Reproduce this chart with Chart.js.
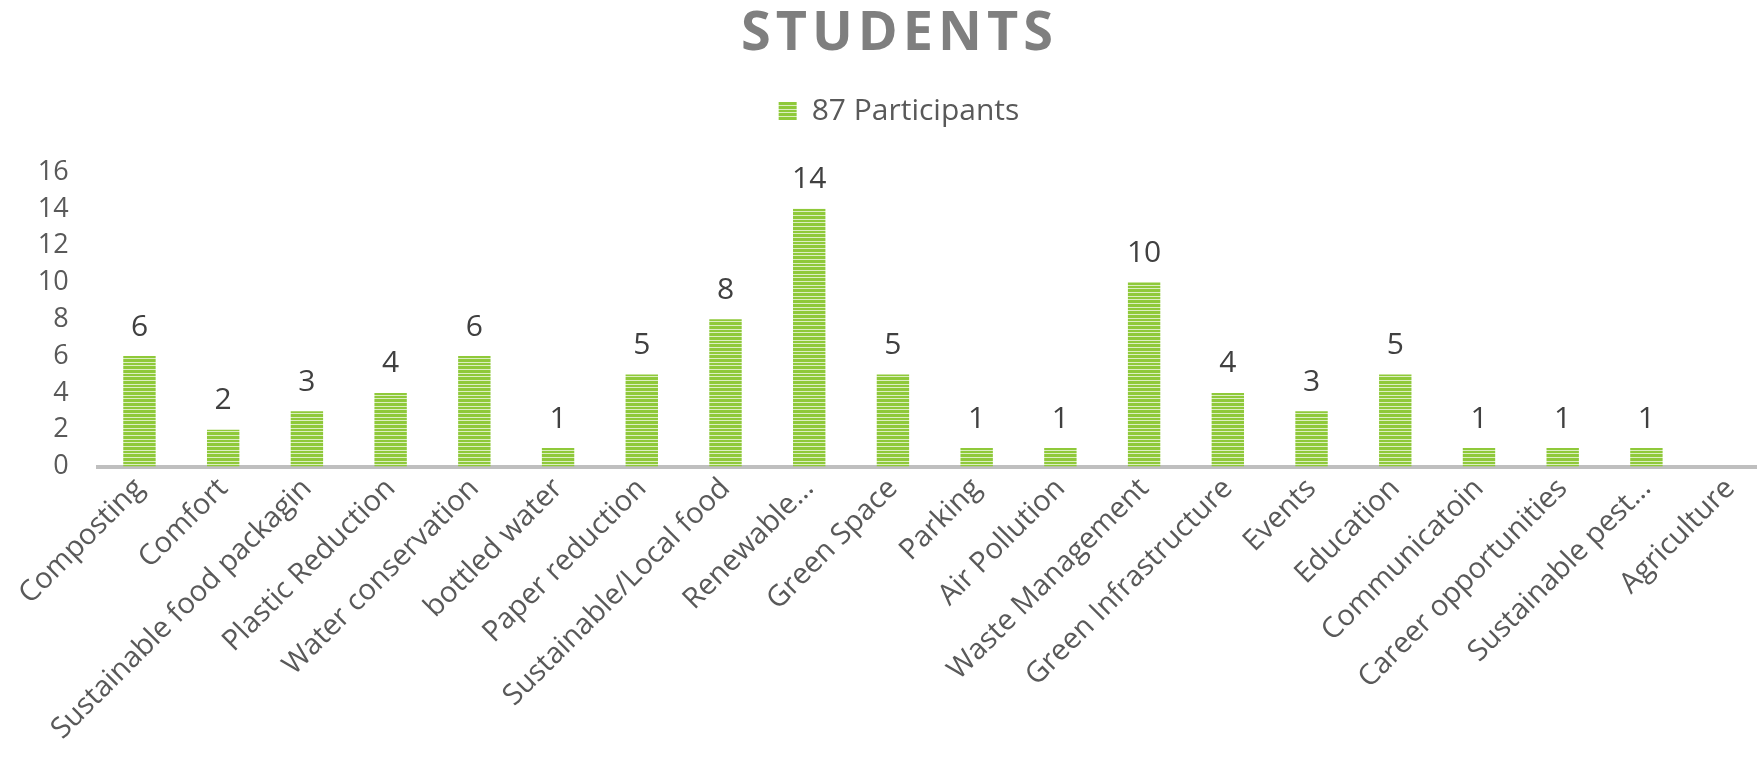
<!DOCTYPE html>
<html>
<head>
<meta charset="utf-8">
<script src="https://cdn.jsdelivr.net/npm/chart.js@4"></script>
<style>
  html, body { margin: 0; padding: 0; background: #ffffff; overflow: hidden; }
  #wrap { width: 1772px; height: 770px; position: relative; }
</style>
</head>
<body>
<div id="wrap"><canvas id="c"></canvas></div>
<script>
const chartTitle = "STUDENTS";
const seriesName = "87 Participants";
const categories = [
  "Composting", "Comfort", "Sustainable food packagin", "Plastic Reduction",
  "Water conservation", "bottled water", "Paper reduction", "Sustainable/Local food",
  "Renewable…", "Green Space", "Parking", "Air Pollution", "Waste Management",
  "Green Infrastructure", "Events", "Education", "Communicatoin",
  "Career opportunities", "Sustainable pest…", "Agriculture"
];
const values = [6, 2, 3, 4, 6, 1, 5, 8, 14, 5, 1, 1, 10, 4, 3, 5, 1, 1, 1, null];
const yTicks = { min: 0, max: 16, step: 2 };

const FONT = "'Open Sans', 'DejaVu Sans', sans-serif";

// striped pattern fill (horizontal stripes, ~3.7px period)
function makePattern() {
  const rows = ['G','G','L','G','G','G','L','G','G','G','L'];
  const p = document.createElement('canvas');
  p.width = 4; p.height = rows.length;
  const g = p.getContext('2d');
  rows.forEach((r, i) => {
    g.fillStyle = r === 'G' ? '#8fc93a' : '#dcefc2';
    g.fillRect(0, i, 4, 1);
  });
  return g.createPattern(p, 'repeat');
}
const stripe = makePattern();

const titlePlugin = {
  id: 'customTitle',
  afterDraw(chart) {
    const ctx = chart.ctx;
    ctx.save();
    ctx.font = "bold 54px " + FONT;
    ctx.fillStyle = '#7f7f7f';
    ctx.textAlign = 'center';
    ctx.textBaseline = 'middle';
    const ls = 5;
    try { ctx.letterSpacing = ls + 'px'; } catch (e) {}
    ctx.fillText(chartTitle, 897 + ls / 2, 35);
    ctx.restore();
  }
};

const legendShift = {
  id: 'legendShift',
  afterLayout(chart) {
    if (chart.legend) { chart.legend.left += 13; chart.legend.right += 13; }
  }
};

const valueLabels = {
  id: 'valueLabels',
  afterDatasetsDraw(chart) {
    const ctx = chart.ctx;
    const meta = chart.getDatasetMeta(0);
    ctx.save();
    ctx.font = "30px " + FONT;
    ctx.fillStyle = '#404040';
    ctx.textAlign = 'center';
    ctx.textBaseline = 'middle';
    meta.data.forEach((bar, i) => {
      const v = values[i];
      if (v === null || v === undefined) return;
      ctx.fillText(String(v), bar.x, bar.y - 29);
    });
    ctx.restore();
  }
};

new Chart(document.getElementById('c'), {
  type: 'bar',
  data: {
    labels: categories,
    datasets: [{
      label: seriesName,
      data: values,
      backgroundColor: stripe,
      borderWidth: 0,
      barPercentage: 0.387,
      categoryPercentage: 1.0
    }]
  },
  options: {
    responsive: true,
    maintainAspectRatio: false,
    animation: false,
    layout: { padding: { top: 60, left: 0, right: 0, bottom: 0 } },
    plugins: {
      // used only as an empty spacer box beneath the legend
      title: {
        display: true,
        text: ' ',
        weight: 500,
        color: 'rgba(0,0,0,0)',
        font: { size: 1 },
        padding: { top: 0, bottom: 34.8 }
      },
      tooltip: { enabled: false },
      legend: {
        display: true,
        position: 'top',
        labels: {
          boxWidth: 18,
          boxHeight: 18,
          padding: 36,
          color: '#595959',
          font: { family: FONT, size: 30 }
        }
      }
    },
    scales: {
      x: {
        z: 1,
        offset: true,
        grid: { display: false, drawTicks: false },
        border: { display: true, color: '#bfbfbf', width: 4 },
        ticks: {
          autoSkip: false,
          maxRotation: 45,
          minRotation: 45,
          padding: 5,
          color: '#595959',
          font: { family: FONT, size: 29 }
        },
        afterFit(scale) { scale.height = 303.5; }
      },
      y: {
        min: yTicks.min,
        max: yTicks.max,
        grid: { display: false, drawTicks: false },
        border: { display: false },
        ticks: {
          stepSize: yTicks.step,
          padding: 29,
          color: '#595959',
          font: { family: FONT, size: 27 }
        },
        afterFit(scale) { scale.width = 97.6; }
      }
    }
  },
  plugins: [titlePlugin, legendShift, valueLabels]
});
</script>
</body>
</html>
